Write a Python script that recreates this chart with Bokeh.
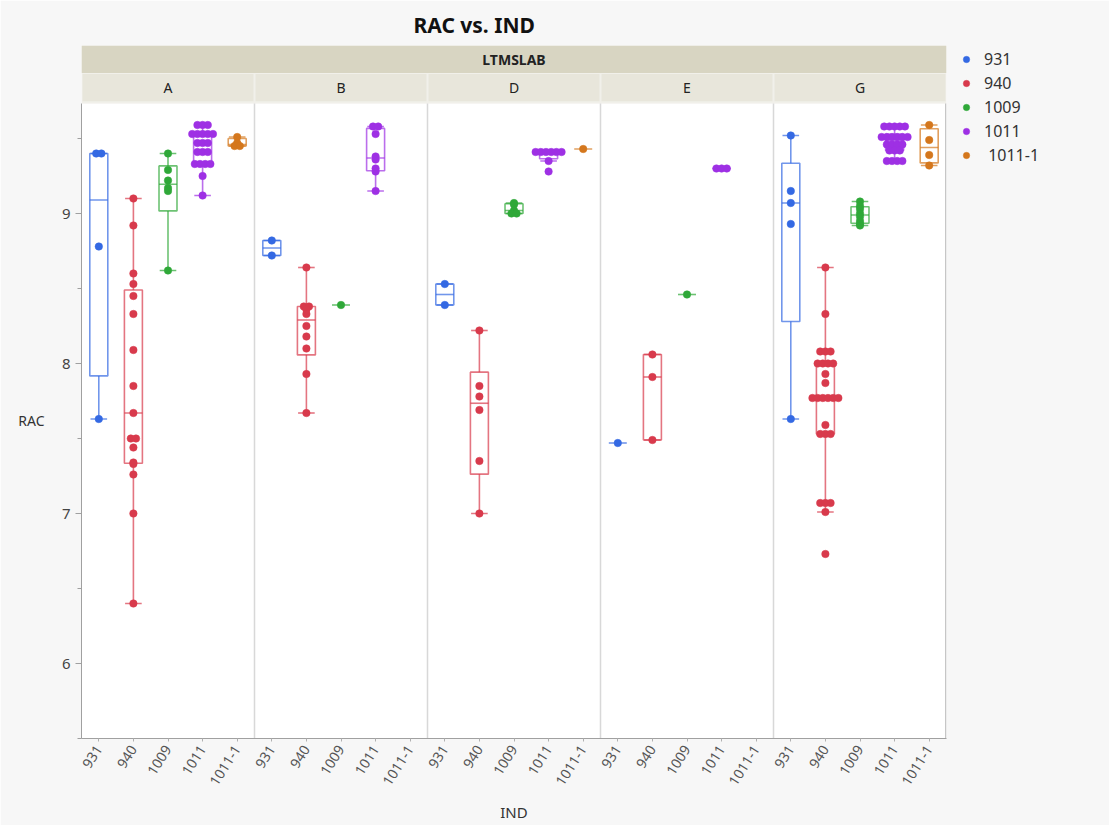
import numpy as np
from bokeh.plotting import figure
from bokeh.models import ColumnDataSource, FixedTicker, Legend, LegendItem, Range1d, LinearAxis
from bokeh.core.properties import value
from bokeh.embed import file_html
from bokeh.resources import INLINE

# ---------------- data ----------------
PANELS = ["A", "B", "D", "E", "G"]
IND_LEVELS = ["931", "940", "1009", "1011", "1011-1"]
IND_COLORS = ["#3469e3", "#d83a4c", "#2fa838", "#9e30e4", "#d4771d"]
Y_TICKS = [6, 7, 8, 9]
Y_MINOR = [5.5, 6.5, 7.5, 8.5, 9.5]

A_931 = [9.40, 9.40, 8.78, 7.63]
A_940 = [9.10, 8.92, 8.60, 8.53, 8.45, 8.33, 8.09, 7.85, 7.67, 7.50, 7.50, 7.44, 7.34, 7.33, 7.26, 7.00, 6.40]
A_1009 = [9.40, 9.29, 9.22, 9.17, 9.15, 8.62]
A_1011 = [9.59, 9.59, 9.59, 9.53, 9.53, 9.53, 9.53, 9.53, 9.47, 9.47, 9.47,
          9.41, 9.41, 9.41, 9.33, 9.33, 9.33, 9.33, 9.25, 9.12]
A_1011_1 = [9.51, 9.47, 9.45, 9.45]

B_931 = [8.82, 8.72]
B_940 = [8.64, 8.38, 8.38, 8.36, 8.33, 8.25, 8.18, 8.10, 7.93, 7.67]
B_1009 = [8.39]
B_1011 = [9.58, 9.58, 9.53, 9.38, 9.36, 9.30, 9.28, 9.15]
B_1011_1 = []

D_931 = [8.53, 8.39]
D_940 = [8.22, 7.85, 7.78, 7.69, 7.35, 7.00]
D_1009 = [9.07, 9.06, 9.02, 9.00, 9.00]
D_1011 = [9.41, 9.41, 9.41, 9.41, 9.41, 9.41, 9.35, 9.28]
D_1011_1 = [9.43]

E_931 = [7.47]
E_940 = [8.06, 7.91, 7.49]
E_1009 = [8.46]
E_1011 = [9.30, 9.30, 9.30]
E_1011_1 = []

G_931 = [9.52, 9.15, 9.07, 8.93, 7.63]
G_940 = [8.64, 8.33, 8.08, 8.08, 8.08, 8.00, 8.00, 8.00, 8.00, 7.93, 7.87,
         7.77, 7.77, 7.77, 7.77, 7.77, 7.77, 7.59, 7.53, 7.53, 7.53,
         7.07, 7.07, 7.07, 7.01, 6.73]
G_1009 = [9.08, 9.05, 9.03, 9.00, 8.98, 8.95, 8.93, 8.92]
G_1011 = [9.58, 9.58, 9.58, 9.58, 9.58, 9.51, 9.51, 9.51, 9.51, 9.51, 9.51,
          9.46, 9.46, 9.46, 9.46, 9.42, 9.42, 9.42, 9.35, 9.35, 9.35, 9.35]
G_1011_1 = [9.59, 9.49, 9.39, 9.32]

RAC = {
    "A": [A_931, A_940, A_1009, A_1011, A_1011_1],
    "B": [B_931, B_940, B_1009, B_1011, B_1011_1],
    "D": [D_931, D_940, D_1009, D_1011, D_1011_1],
    "E": [E_931, E_940, E_1009, E_1011, E_1011_1],
    "G": [G_931, G_940, G_1009, G_1011, G_1011_1],
}

# ---------------- helpers ----------------
def jmp_quantile(vals, p):
    s = sorted(vals)
    n = len(s)
    pos = (n + 1) * p
    if pos <= 1:
        return s[0]
    if pos >= n:
        return s[-1]
    lo = int(np.floor(pos))
    frac = pos - lo
    return s[lo - 1] + frac * (s[lo] - s[lo - 1])


def spread_offsets(vals, step=0.15):
    offs = [0.0] * len(vals)
    groups = {}
    for i, v in enumerate(vals):
        groups.setdefault(round(v, 2), []).append(i)
    for k, idx in groups.items():
        m = len(idx)
        for j, i in enumerate(idx):
            offs[i] = (j - (m - 1) / 2.0) * step
    return offs


FONT_NAME = "Noto Sans"
FONT = value(FONT_NAME)
X_LO, X_HI = -0.5, 24.5
Y_LO, PLOT_TOP, Y_HI = 5.5, 9.733, 10.12
HALF = 0.26
RAC_LABEL_Y = 7.62

p = figure(frame_width=865, frame_height=693,
           min_border_left=81, min_border_right=147, min_border_top=45, min_border_bottom=80,
           x_range=Range1d(X_LO, X_HI), y_range=Range1d(Y_LO, Y_HI),
           output_backend="svg", toolbar_location=None)
p.background_fill_color = "#f7f7f7"
p.border_fill_color = "#f7f7f7"
p.outline_line_color = None
p.xgrid.visible = False
p.ygrid.visible = False

p.title.text = "RAC vs. IND"
p.title.align = "left"
p.title.offset = 332
p.title.text_font = FONT_NAME
p.title.text_font_style = "bold"
p.title.text_font_size = "21px"
p.title.text_color = "#111111"
p.title.standoff = 14

# plot area & header
p.quad(left=[X_LO], right=[X_HI], bottom=[Y_LO], top=[PLOT_TOP], fill_color="white", line_color=None)
p.quad(left=[X_LO], right=[X_HI], bottom=[PLOT_TOP], top=[Y_HI], fill_color="#f1f0ea", line_color=None)
p.quad(left=[X_LO], right=[X_HI], bottom=[9.937], top=[Y_HI], fill_color="#d8d5c2", line_color=None)
npan = len(PANELS)
p.quad(left=[i * 5 - 0.5 + 0.03 for i in range(npan)], right=[i * 5 + 4.5 - 0.03 for i in range(npan)],
       bottom=[9.748] * npan, top=[9.93] * npan, fill_color="#e8e6db", line_color=None)
p.text(x=[(X_LO + X_HI) / 2], y=[10.03], text=["LTMSLAB"], text_font=FONT, text_font_style="bold",
       text_font_size="14px", text_align="center", text_baseline="middle", text_color="#222222")
p.text(x=[i * 5 + 2 for i in range(npan)], y=[9.84] * npan, text=PANELS, text_font=FONT,
       text_font_size="14px", text_align="center", text_baseline="middle", text_color="#222222")
# panel separators
p.segment(x0=[i * 5 - 0.5 for i in range(1, npan)], x1=[i * 5 - 0.5 for i in range(1, npan)],
          y0=[Y_LO] * (npan - 1), y1=[PLOT_TOP] * (npan - 1), line_color="#d8d8d8", line_width=1.5)
p.segment(x0=[X_HI - 0.02], x1=[X_HI - 0.02], y0=[Y_LO], y1=[PLOT_TOP], line_color="#b8b8b8", line_width=1.2)

legend_items = []
for ci, ind in enumerate(IND_LEVELS):
    col = IND_COLORS[ci]
    px, py = [], []
    bl, br, bb, bt = [], [], [], []
    sx0, sx1, sy0, sy1 = [], [], [], []
    for pi, pan in enumerate(PANELS):
        vals = RAC[pan][ci]
        if not vals:
            continue
        xc = pi * 5 + ci
        offs = spread_offsets(vals)
        px += [xc + o for o in offs]
        py += list(vals)
        if len(vals) == 1:
            sx0.append(xc - HALF); sx1.append(xc + HALF); sy0.append(vals[0]); sy1.append(vals[0])
            continue
        q1 = jmp_quantile(vals, 0.25)
        q2 = jmp_quantile(vals, 0.5)
        q3 = jmp_quantile(vals, 0.75)
        iqr = q3 - q1
        inside = [v for v in vals if q1 - 1.5 * iqr <= v <= q3 + 1.5 * iqr]
        lo, hi = min(inside), max(inside)
        bl.append(xc - HALF); br.append(xc + HALF); bb.append(q1); bt.append(q3)
        sx0.append(xc - HALF); sx1.append(xc + HALF); sy0.append(q2); sy1.append(q2)
        sx0 += [xc, xc]; sx1 += [xc, xc]; sy0 += [q3, q1]; sy1 += [hi, lo]
        sx0 += [xc - 0.24, xc - 0.24]; sx1 += [xc + 0.24, xc + 0.24]; sy0 += [hi, lo]; sy1 += [hi, lo]
    if bl:
        p.quad(left=bl, right=br, bottom=bb, top=bt, fill_color=None, line_color=col,
               line_alpha=0.7, line_width=1.6)
    p.segment(x0=sx0, x1=sx1, y0=sy0, y1=sy1, line_color=col, line_alpha=0.7, line_width=1.6)
    src = ColumnDataSource(dict(x=px, y=py))
    r = p.scatter("x", "y", source=src, size=7.5, fill_color=col, line_color=col, line_width=0.5)
    label = " " + ind if ind == "1011-1" else ind
    legend_items.append(LegendItem(label=label, renderers=[r]))

legend = Legend(items=legend_items, location="top_left", margin=3, padding=0, spacing=2,
                glyph_width=34, glyph_height=16, label_height=16, label_standoff=1,
                border_line_color=None, background_fill_alpha=0,
                label_text_font=FONT_NAME, label_text_font_size="16px", label_text_color="#333333")
p.add_layout(legend, "right")

# axes
yax = p.yaxis[0]
yax.ticker = FixedTicker(ticks=Y_TICKS, minor_ticks=Y_MINOR)
yax.bounds = (Y_LO, PLOT_TOP)
yax.axis_line_color = "#a0a0a0"
yax.major_tick_line_color = "#a0a0a0"
yax.minor_tick_line_color = "#a0a0a0"
yax.major_tick_in = 0
yax.major_tick_out = 6
yax.minor_tick_in = 0
yax.minor_tick_out = 4
yax.major_label_text_font = FONT_NAME
yax.major_label_text_font_size = "15px"
yax.major_label_text_color = "#444444"

# horizontal "RAC" axis title, as an extra label-only axis on the left
rac_axis = LinearAxis(ticker=FixedTicker(ticks=[RAC_LABEL_Y], minor_ticks=[]),
                      major_label_overrides={RAC_LABEL_Y: "RAC"})
rac_axis.axis_line_color = None
rac_axis.major_tick_line_color = None
rac_axis.minor_tick_line_color = None
rac_axis.major_label_standoff = 8
rac_axis.major_label_text_font = FONT_NAME
rac_axis.major_label_text_font_size = "14px"
rac_axis.major_label_text_color = "#333333"
p.add_layout(rac_axis, "left")

xax = p.xaxis[0]
xax.ticker = FixedTicker(ticks=list(range(25)), minor_ticks=[])
xax.major_label_overrides = {i: IND_LEVELS[i % 5] for i in range(25)}
xax.major_label_orientation = 1.0
xax.axis_line_color = "#a0a0a0"
xax.major_tick_line_color = "#b0b0b0"
xax.major_tick_in = 0
xax.major_tick_out = 3
xax.minor_tick_line_color = None
xax.major_label_text_font = FONT_NAME
xax.major_label_text_font_size = "14px"
xax.major_label_text_color = "#555555"
xax.axis_label = "IND"
xax.axis_label_text_font = FONT_NAME
xax.axis_label_text_font_style = "normal"
xax.axis_label_text_font_size = "15px"
xax.axis_label_text_color = "#333333"
xax.axis_label_standoff = 10

open("out.html", "w").write(file_html(p, INLINE))
